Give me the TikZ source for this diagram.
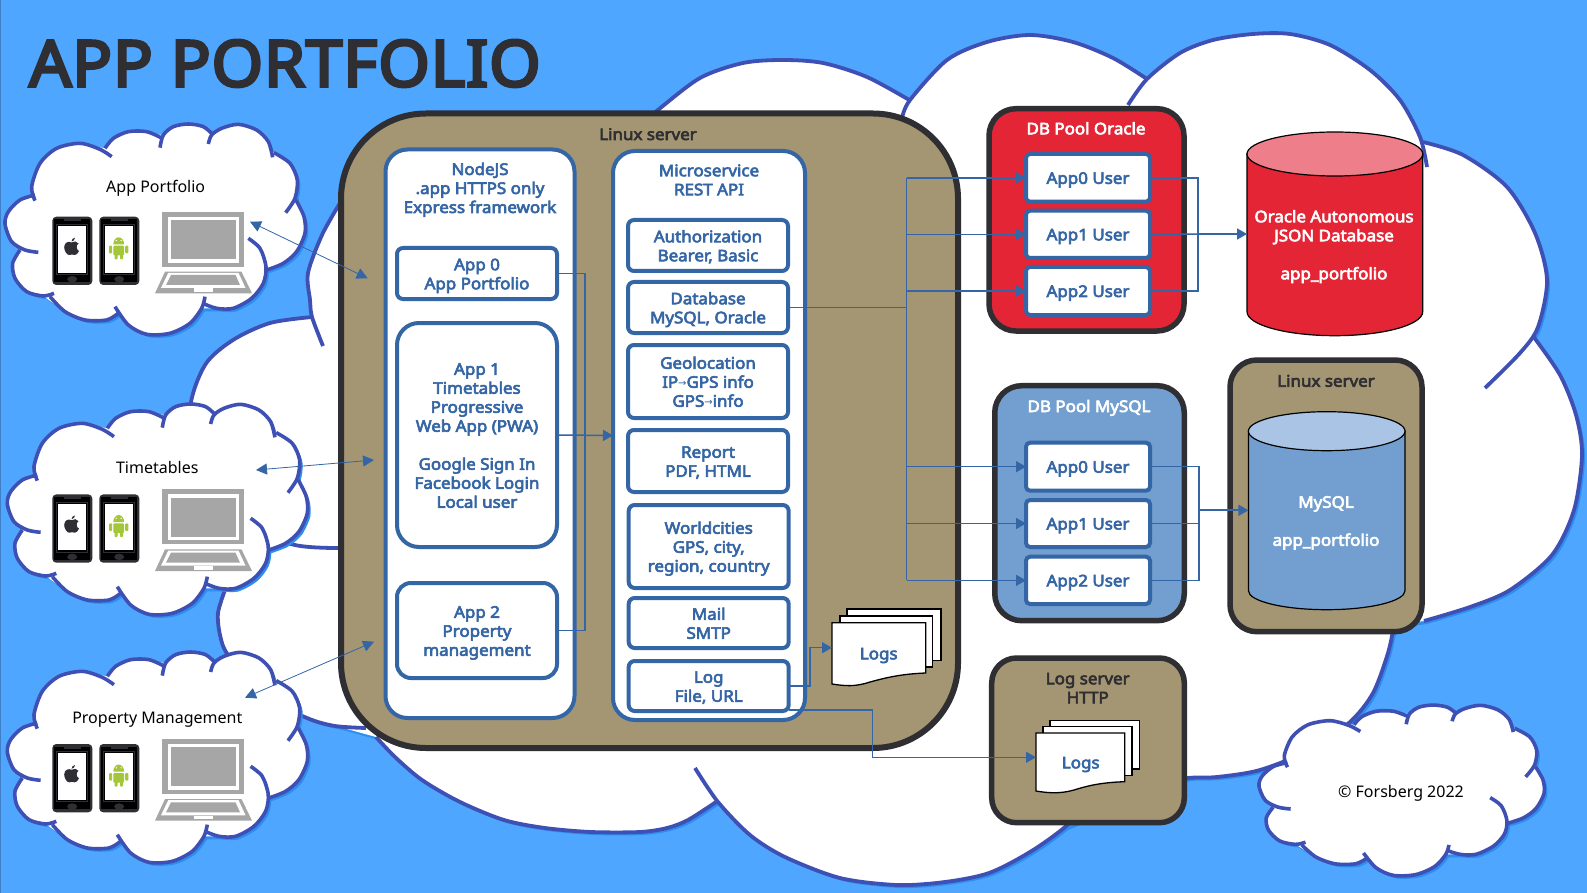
\documentclass[tikz,border=0pt]{standalone}
\usepackage{fontspec}
\setmainfont{Noto Sans}
\newfontfamily\arrowfont{DejaVu Sans}
\newfontfamily\labelfont{Noto Sans}[FakeBold=3.8,FakeStretch=1.06]
\newfontfamily\titlefont{Noto Sans}[FakeBold=4.5,FakeStretch=1.035,LetterSpace=1]
\usetikzlibrary{arrows.meta,calc}
\definecolor{bgblue}{HTML}{4FA6FF}
\definecolor{shadowblue}{HTML}{2C8EF0}
\definecolor{cloudline}{HTML}{3F50B5}
\definecolor{lineblue}{HTML}{3465A4}
\definecolor{tanbox}{HTML}{A49673}
\definecolor{darkedge}{HTML}{2E2E33}
\definecolor{redfill}{HTML}{E42535}
\definecolor{redtop}{HTML}{EE7F8A}
\definecolor{bluefill}{HTML}{729FCF}
\definecolor{bluetop}{HTML}{A9C4E4}
\definecolor{lapgray}{HTML}{A6A6A6}
\definecolor{droid}{HTML}{A4C639}
\newcommand\arrowglyph{{\arrowfont\fontsize{10}{10}\selectfont\raisebox{0.8pt}{→}}}
\newcommand\topstrut{\rule{0pt}{16.5pt}}
\tikzset{
  lab/.style={align=center,font=\labelfont\fontsize{16}{19}\selectfont,inner sep=0pt,outer sep=0pt,
    execute at begin node={\rule{0pt}{16pt}},execute at end node={\rule[-4pt]{0pt}{4pt}}},
  bluelab/.style={lab,text=lineblue},
  whitelab/.style={lab,text=white},
  darklab/.style={lab,text=darkedge},
  plainlab/.style={inner sep=0pt,text=black,font=\fontsize{16}{19}\selectfont,
    execute at begin node={\rule{0pt}{16pt}},execute at end node={\rule[-4pt]{0pt}{4pt}}},
  container/.style={rectangle,draw=lineblue,fill=white,line width=4pt,rounded corners=22pt,inner sep=0pt,outer sep=0pt,lab,text=lineblue},
  appbox/.style={rectangle,draw=lineblue,fill=white,line width=4pt,rounded corners=6pt,inner sep=0pt,outer sep=0pt,lab,text=lineblue},
  server/.style={rectangle,draw=darkedge,fill=tanbox,line width=5.5pt,rounded corners=27pt,inner sep=0pt,outer sep=0pt},
  link/.style={draw=lineblue,line width=1.5pt},
  linkarrow/.style={link,-{Triangle[length=10pt,width=11pt]}},
  thinarrow/.style={draw=lineblue,line width=0.8pt,{Triangle[length=11pt,width=11pt]}-{Triangle[length=11pt,width=11pt]}},
  cyledge/.style={draw=black,line width=1.2pt},
  doc/.style={draw=black,fill=white,line width=1.3pt}
}
% small cloud lobes, in the units of a fixed local grid
\newcommand\smalllobes[1]{%
  \path[#1] plot[smooth] coordinates {(335,170)(300,148)(240,130)(170,145)(120,190)(95,260)(105,302)};
  \path[#1] plot[smooth] coordinates {(105,285)(60,300)(25,335)(15,372)(35,425)(75,450)(115,457)};
  \path[#1] plot[smooth] coordinates {(60,450)(38,490)(45,535)(80,575)(130,588)(162,580)};
  \path[#1] plot[smooth] coordinates {(150,590)(195,635)(255,660)(320,660)(355,640)};
  \path[#1] plot[smooth] coordinates {(345,620)(385,675)(440,703)(510,700)(570,670)(605,625)(615,590)};
  \path[#1] plot[smooth] coordinates {(608,610)(650,625)(700,625)(755,595)(790,550)(798,500)(780,445)(745,415)};
  \path[#1] plot[smooth] coordinates {(888,300)(912,350)(915,400)(890,455)(850,490)(800,510)};
  \path[#1] plot[smooth] coordinates {(857,338)(885,295)(892,240)(870,190)(822,158)};
  \path[#1] plot[smooth] coordinates {(818,172)(805,125)(770,90)(715,73)(665,85)(635,105)(625,132)};
  \path[#1] plot[smooth] coordinates {(640,105)(610,80)(565,72)(520,80)(490,105)(480,143)};
  \path[#1] plot[smooth] coordinates {(487,115)(440,95)(385,95)(340,115)(315,145)};
}
\newcommand\smallcorefill[1]{%
  \fill[#1] (315,145)--(240,130)--(120,190)--(95,260)--(100,292)--(25,335)--(35,425)--(60,450)--(45,535)--(130,588)--(195,635)--(320,660)--(352,635)--(440,703)--(570,670)--(605,625)--(700,625)--(798,510)--(890,455)--(915,400)--(888,300)--(870,190)--(825,162)--(770,90)--(665,85)--(635,105)--(565,72)--(490,105)--(385,95)--cycle;
}
\newcommand\smallcloud[4]{%
  \begin{scope}[shift={(#1,#2)},x=#3pt,y=-#4pt]
    \begin{scope}[shift={(3pt,-3pt)}]
      \smallcorefill{shadowblue}
      \smalllobes{fill=shadowblue}
    \end{scope}
    \smallcorefill{white}
    \smalllobes{fill=white}
    \smalllobes{draw=cloudline,line width=3.6pt}
  \end{scope}
}
\newcommand\bigcloudlobes[1]{%
  \path[#1] plot[smooth] coordinates {(640,125)(657,110.7)(700,78)(743,63)(783,60)(823,63)(867,77)(911,101)};
  \path[#1] plot[smooth] coordinates {(902,118)(910,100)(947,60)(987,42)(1030,35)(1073,42)(1113,58)(1147,79)};
  \path[#1] plot[smooth] coordinates {(1128,105)(1147,79)(1180,53)(1213,40)(1253,34)(1290,34)(1330,45)(1370,70)(1400,100)(1420,137)(1427,167)};
  \path[#1] plot[smooth] coordinates {(1423,142)(1463,155)(1507,187)(1535,233)(1547,280)(1538,327)(1520,353)(1485,388)};
  \path[#1] plot[smooth] coordinates {(1533,336)(1560,375)(1576,415)(1582,455)(1574,510)(1552,555)(1510,590)(1470,607)(1424,621)};
  \path[#1] plot[smooth] coordinates {(1394,625)(1388,653)(1373,693)(1350,722)(1310,750)(1260,770)(1217,777)(1187,778)(1120,785)};
  \path[#1] plot[smooth] coordinates {(695,768)(718,802)(750,835)(785,857)(840,878)(897,885)(945,882)(989,873)(1030,852)(1065,827)(1090,800)};
  \path[#1] plot[smooth] coordinates {(716,802)(688,820)(667,828)(640,832)(591,832)(545,828)(504,820)(460,802)(422,780)(395,757)(376,737)};
  \path[#1] plot[smooth] coordinates {(225,590)(218,613)(220,635)(228,655)(262,695)(307,718)(335,726)(366,728)};
  \path[#1] plot[smooth] coordinates {(338,548)(295,545)(240,525)(200,470)(190,410)(205,365)(233,340)(270,323)(312,317)};
  \path[#1] plot[smooth] coordinates {(340,203)(322,235)(308,273)(310,300)(312,317)(323,346)};
}
\newcommand\bigcorefill[1]{%
  \fill[#1] (657,110)--(911,101)--(1030,35)--(1147,79)--(1253,34)--(1423,142)--(1547,280)--(1533,336)--(1582,455)--(1424,621)--(1394,625)--(1187,778)--(1065,827)--(897,885)--(716,802)--(591,832)--(376,737)--(307,718)--(225,590)--(195,470)--(233,340)--(312,317)--(340,203)--cycle;
}
\newcommand\phonebody[1]{%
  \begin{scope}[shift={(#1,0)}]
    \fill[darkedge,rounded corners=4pt] (52.3,216.7) rectangle (92.3,285);
    \fill[black] (54.3,219.5) rectangle (90.3,282);
    \fill[darkedge] (64,219.5) rectangle (81,221.5);
    \draw[darkedge,line width=0.8pt] (56.8,224.5) rectangle (87.5,274.2);
    \fill[white] (58.3,226) rectangle (86,272.7);
    \fill[darkedge] (72.2,279.2) ellipse (5pt and 3.2pt);
  \end{scope}
}
\newcommand\devices[1]{%
  \begin{scope}[shift={(0,#1)}]
    \phonebody{0}
    \phonebody{47}
    % apple mark
    \fill[darkedge] (71.5,242.5) .. controls (74,241) and (77,241) .. (78.5,243.5) .. controls (76,245) and (76,249.5) .. (79,251) .. controls (78,253.5) and (76,255.5) .. (74.5,255) .. controls (73,254.3) and (71,254.3) .. (69.5,255) .. controls (67,255.5) and (64,250.5) .. (64.2,247) .. controls (64.4,242) and (69,241) .. (71.5,242.5) -- cycle;
    \fill[darkedge] (71.5,241.5) .. controls (71.5,239.5) and (73,238) .. (75,237.7) .. controls (75,239.5) and (73.5,241.5) .. (71.5,241.5) -- cycle;
    % android mark
    \fill[droid] (113.3,244.3) arc[start angle=180,end angle=0,x radius=5.4pt,y radius=7pt] -- cycle;
    \fill[droid,rounded corners=1pt] (113.3,245.7) rectangle (124.1,255.3);
    \fill[droid,rounded corners=1pt] (109,245.7) rectangle (112.2,253.3);
    \fill[droid,rounded corners=1pt] (125.2,245.7) rectangle (128.4,253.3);
    \fill[droid,rounded corners=1pt] (114.5,254) rectangle (117.5,259.3);
    \fill[droid,rounded corners=1pt] (120,254) rectangle (123,259.3);
    \fill[white] (116.3,240.5) circle (0.7pt) (121.1,240.5) circle (0.7pt);
    % laptop
    \fill[lapgray] (162.3,211.7) rectangle (244.3,266.7);
    \fill[white] (168.3,216.7) rectangle (239,262.7);
    \fill[lapgray] (171,220) rectangle (236,259);
    \fill[lapgray] (165,271.7) -- (241.5,271.7) -- (252,293.3) -- (155,293.3) -- cycle;
    \fill[white] (168.3,272.8) -- (238.5,272.8) -- (245.5,288) -- (161,288) -- cycle;
    \fill[lapgray] (171,275) -- (235.5,275) -- (240,285) -- (166,285) -- cycle;
    \fill[white] (194,288.5) rectangle (213,292);
  \end{scope}
}
\begin{document}
\begin{tikzpicture}[x=1pt,y=-1pt]
\useasboundingbox (0,0) rectangle (1587,893);
\fill[bgblue] (0,0) rectangle (1587,893);
\fill[lineblue!60!bgblue] (0,0) rectangle (1.4,893);

% large background cloud
\begin{scope}[shift={(3pt,-3pt)}]
  \bigcorefill{shadowblue}
  \bigcloudlobes{fill=shadowblue}
\end{scope}
\bigcorefill{white}
\bigcloudlobes{fill=white}
\bigcloudlobes{draw=cloudline,line width=3.8pt}

% title
\node[inner sep=0pt,anchor=west,text=darkedge,font=\titlefont\fontsize{64}{70}\selectfont] (title) at (29,63.5) {APP PORTFOLIO};

% client clouds
\smallcloud{0}{100}{0.3333}{0.3333}
\smallcloud{2.3}{380}{0.3333}{0.3333}
\smallcloud{2.3}{628}{0.3333}{0.3333}
\smallcloud{1254.2}{685.6}{0.3167}{0.27}
\devices{0}
\devices{277.7}
\devices{527.3}
\node[plainlab] (cloudportfolio) at (155.7,187) {App Portfolio};
\node[plainlab] (cloudtimetables) at (157.3,467.3) {Timetables};
\node[plainlab] (cloudproperty) at (157.3,717.3) {Property Management};
\node[plainlab] (copyright) at (1401,791) {© Forsberg 2022};

% main server
\node[server,rounded corners=85pt,line width=6pt,minimum width=617pt,minimum height=634.5pt] (mainserver) at (649.5,430.75) {};
\node[darklab] (mainlabel) at (648,134) {Linux server};

\node[container,minimum width=189pt,minimum height=568.5pt] (nodebox) at (480,433.75) {};
\node[bluelab] (nodelabel) at (480,187.7) {\topstrut NodeJS\\.app HTTPS only\\Express framework};
\node[appbox,minimum width=160pt,minimum height=51pt] (app0) at (477,273.5) {\topstrut App 0\\App Portfolio};
\node[appbox,rounded corners=22pt,minimum width=160pt,minimum height=224pt] (app1) at (477,435) {\topstrut App 1\\Timetables\\Progressive\\Web App (PWA)\\\mbox{}\\Google Sign In\\Facebook Login\\Local user};
\node[appbox,rounded corners=14pt,minimum width=160pt,minimum height=95pt] (app2) at (477,630.5) {\topstrut App 2\\Property\\management};

\node[container,minimum width=192pt,minimum height=569pt] (microbox) at (709,435.5) {};
\node[bluelab] (microlabel) at (709,179.5) {\topstrut Microservice\\REST API};
\node[appbox,minimum width=160pt,minimum height=51pt] (auth) at (708,245.5) {\topstrut Authorization\\Bearer, Basic};
\node[appbox,minimum width=160pt,minimum height=51pt] (database) at (708,307.5) {\topstrut Database\\MySQL, Oracle};
\node[appbox,minimum width=160pt,minimum height=73pt] (geo) at (708,381.5) {\topstrut Geolocation\\IP\arrowglyph GPS info\\GPS\arrowglyph info};
\node[appbox,minimum width=160pt,minimum height=62pt] (report) at (708,461) {\topstrut Report\\PDF, HTML};
\node[appbox,minimum width=160pt,minimum height=83pt] (world) at (708.7,546.5) {\topstrut Worldcities\\GPS, city,\\region, country};
\node[appbox,minimum width=160pt,minimum height=50pt] (mail) at (708.7,623) {\topstrut Mail\\SMTP};
\node[appbox,minimum width=160pt,minimum height=50pt] (logsvc) at (708.7,686) {\topstrut Log\\File, URL};

% local logs
\begin{scope}
  \draw[doc] (847,609) rectangle (941,660.7);
  \draw[doc] (840,616) rectangle (932.7,667);
  \draw[doc] (832,622.7) -- (925.7,622.7) -- (925.7,673) .. controls (900,674) and (885,678) .. (870,682) .. controls (855,687) and (845,686) .. (832,684) -- cycle;
\end{scope}
\node[bluelab] (logs1) at (878.7,653.3) {Logs};
\coordinate (logs1in) at (832,647.7);

% Oracle pool
\node[server,fill=redfill,minimum width=195pt,minimum height=222.3pt] (oraclepool) at (1086.5,219.85) {};
\node[whitelab] (oraclelabel) at (1086,128.3) {DB Pool Oracle};
\node[appbox,rounded corners=4pt,minimum width=124pt,minimum height=47.7pt] (ora0) at (1088,177.85) {App0 User};
\node[appbox,rounded corners=4pt,minimum width=124pt,minimum height=47.3pt] (ora1) at (1088,234.35) {App1 User};
\node[appbox,rounded corners=4pt,minimum width=124pt,minimum height=48pt] (ora2) at (1088,291) {App2 User};

% Oracle database
\draw[cyledge,fill=redfill] (1247,153.5) -- (1247,311.7) arc[start angle=180,end angle=360,x radius=87.85pt,y radius=24pt] -- (1422.7,153.5) -- cycle;
\draw[cyledge,fill=redtop] (1334.85,154) ellipse (87.85pt and 22pt);
\node[whitelab] (oracledb) at (1334,244.5) {\topstrut Oracle Autonomous\\JSON Database\\\mbox{}\\app\_portfolio};
\coordinate (oraclein) at (1247,234);

% MySQL pool
\node[server,fill=bluefill,minimum width=189.5pt,minimum height=235pt] (mysqlpool) at (1089.5,503.2) {};
\node[whitelab] (mysqllabel) at (1089,406) {DB Pool MySQL};
\node[appbox,rounded corners=4pt,minimum width=124pt,minimum height=48pt] (my0) at (1088,466.7) {App0 User};
\node[appbox,rounded corners=4pt,minimum width=124pt,minimum height=47pt] (my1) at (1088,523.5) {App1 User};
\node[appbox,rounded corners=4pt,minimum width=124pt,minimum height=47.3pt] (my2) at (1088,580.35) {App2 User};

% MySQL server
\node[server,minimum width=192pt,minimum height=271.7pt] (mysqlserver) at (1326,495.85) {};
\node[darklab] (mysqlserverlabel) at (1326,380.7) {Linux server};
\draw[cyledge,fill=bluefill] (1248.4,431) -- (1248.4,590.7) arc[start angle=180,end angle=360,x radius=78.3pt,y radius=19pt] -- (1405,431) -- cycle;
\draw[cyledge,fill=bluetop] (1326.7,431.2) ellipse (78.3pt and 19.5pt);
\node[whitelab] (mysqldb) at (1326,520.5) {\topstrut MySQL\\\mbox{}\\app\_portfolio};
\coordinate (mysqlin) at (1248.4,510.3);

% log server
\node[server,rounded corners=25pt,minimum width=192.6pt,minimum height=164.7pt] (logserver) at (1088,740.35) {};
\node[darklab] (logserverlabel) at (1087.7,687.5) {\topstrut Log server\\HTTP};
\begin{scope}
  \draw[doc] (1050,720.7) rectangle (1139.3,769);
  \draw[doc] (1043,726.7) rectangle (1132,775.7);
  \draw[doc] (1036,733) -- (1124.7,733) -- (1124.7,781.7) .. controls (1100,782.5) and (1087,786) .. (1074,790) .. controls (1060,794) and (1048,793) .. (1036,791) -- cycle;
\end{scope}
\node[bluelab] (logs2) at (1080.7,762.3) {Logs};
\coordinate (logs2in) at (1036,757.3);

% connectors: apps to microservice
\coordinate (appbus) at (585,435);
\draw[link] (app0.east) -- (app0.east -| appbus) -- (app2.east -| appbus) -- (app2.east);
\draw[linkarrow] (app1.east) -- (microbox.west);

% connectors: database to pools
\coordinate (dbbus) at (906.5,307.5);
\draw[link] (database.east) -- (dbbus);
\draw[link] (ora0.west -| dbbus) -- (my2.west -| dbbus);
\draw[linkarrow] (ora0.west -| dbbus) -- (ora0.west);
\draw[linkarrow] (ora1.west -| dbbus) -- (ora1.west);
\draw[linkarrow] (ora2.west -| dbbus) -- (ora2.west);
\draw[linkarrow] (my0.west -| dbbus) -- (my0.west);
\draw[linkarrow] (my1.west -| dbbus) -- (my1.west);
\draw[linkarrow] (my2.west -| dbbus) -- (my2.west);

% connectors: pools to databases
\coordinate (orabus) at (1198,234);
\draw[link] (ora0.east) -- (ora0.east -| orabus) -- (ora2.east -| orabus) -- (ora2.east);
\draw[link] (ora1.east) -- (orabus);
\draw[linkarrow,line width=1.7pt] (orabus) -- (oraclein);
\coordinate (mybus) at (1199,510.3);
\draw[link] (my0.east) -- (my0.east -| mybus) -- (my2.east -| mybus) -- (my2.east);
\draw[link] (my1.east) -- (my1.east -| mybus);
\draw[linkarrow,line width=1.7pt] (mybus) -- (mysqlin);

% connectors: logs
\coordinate (logbend) at (810,686);
\draw[linkarrow] (logsvc.east) -- (logbend) -- (logbend |- logs1in) -- (logs1in);
\coordinate (logbendb) at (872.3,710);
\draw[linkarrow] (logsvc.south east) ++(0,-1) -- (logbendb) -- (logbendb |- logs2in) -- (logs2in);

% connectors: clients
\coordinate (portfolioa) at (250,221.7);
\coordinate (portfoliob) at (367.7,278.3);
\coordinate (timetablesa) at (256,470);
\coordinate (timetablesb) at (374,460);
\coordinate (propertya) at (245,697.7);
\coordinate (propertyb) at (374,641.7);
\draw[thinarrow] (portfolioa) -- (portfoliob);
\draw[thinarrow] (timetablesa) -- (timetablesb);
\draw[thinarrow] (propertya) -- (propertyb);
\end{tikzpicture}
\end{document}
